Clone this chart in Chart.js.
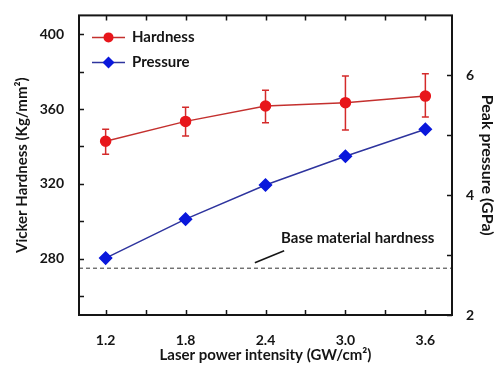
<!DOCTYPE html>
<html>
<head>
<meta charset="utf-8">
<script src="https://cdn.jsdelivr.net/npm/chart.js@4"></script>
<style>
html, body { margin: 0; padding: 0; background: #fff; }
#wrap { width: 501px; height: 368px; }
</style>
</head>
<body>
<div id="wrap"><canvas id="c" width="501" height="368"></canvas></div>
<script>
// data
var intensity = [1.2, 1.8, 2.4, 3.0, 3.6];
var hardness = [342.8, 353.4, 361.6, 363.4, 366.9];
var hardnessLow = [335.8, 345.6, 352.7, 348.8, 355.7];
var hardnessHigh = [349.2, 360.9, 370.0, 377.6, 378.8];
var pressure = [2.95, 3.6, 4.17, 4.65, 5.1];
var baseHardness = 275;

var xTicks = [1.2, 1.8, 2.4, 3.0, 3.6];
var xMinor = [1.5, 2.1, 2.7, 3.3];
var yTicks = [280, 320, 360, 400];
var yMinor = [260, 300, 340, 380];
var y1Ticks = [2, 4, 6];
var y1Minor = [3, 5];

var FONT = 'Lato';
var INK = '#151515';

function pts(xs, ys) {
	return xs.map(function(x, i) { return {x: x, y: ys[i]}; });
}

// frame, inward ticks, error bars, legend, annotation
var decor = {
	id: 'decor',
	beforeDatasetsDraw: function(chart) {
		var ctx = chart.ctx, x = chart.scales.x, y = chart.scales.y;
		ctx.save();
		ctx.strokeStyle = '#d42a2a';
		ctx.lineWidth = 1.5;
		for (var i = 0; i < intensity.length; i++) {
			var px = x.getPixelForValue(intensity[i]);
			var lo = y.getPixelForValue(hardnessLow[i]);
			var hi = y.getPixelForValue(hardnessHigh[i]);
			ctx.beginPath();
			ctx.moveTo(px, lo); ctx.lineTo(px, hi);
			ctx.moveTo(px - 3.5, lo); ctx.lineTo(px + 3.5, lo);
			ctx.moveTo(px - 3.5, hi); ctx.lineTo(px + 3.5, hi);
			ctx.stroke();
		}
		ctx.restore();
	},
	afterDraw: function(chart) {
		var ctx = chart.ctx, a = chart.chartArea;
		var x = chart.scales.x, y = chart.scales.y, y1 = chart.scales.y1;
		ctx.save();
		ctx.strokeStyle = INK;
		ctx.lineWidth = 2;
		ctx.strokeRect(a.left, a.top, a.right - a.left, a.bottom - a.top);

		ctx.lineWidth = 1.5;
		ctx.beginPath();
		xTicks.concat(xMinor).forEach(function(v) {
			var px = Math.round(x.getPixelForValue(v)) + 0.5;
			ctx.moveTo(px, a.bottom); ctx.lineTo(px, a.bottom - 5);
			ctx.moveTo(px, a.top); ctx.lineTo(px, a.top + 5);
		});
		yTicks.concat(yMinor).forEach(function(v) {
			var py = Math.round(y.getPixelForValue(v)) + 0.5;
			ctx.moveTo(a.left, py); ctx.lineTo(a.left + 5, py);
		});
		y1Ticks.concat(y1Minor).forEach(function(v) {
			var py = Math.round(y1.getPixelForValue(v)) + 0.5;
			ctx.moveTo(a.right, py); ctx.lineTo(a.right - 5, py);
		});
		ctx.stroke();

		// annotation for the base line
		ctx.lineWidth = 1.5;
		ctx.beginPath();
		ctx.moveTo(x.getPixelForValue(2.32), y.getPixelForValue(277.9));
		ctx.lineTo(x.getPixelForValue(2.54), y.getPixelForValue(284.3));
		ctx.stroke();
		ctx.fillStyle = INK;
		ctx.font = 'bold 15px ' + FONT;
		ctx.textBaseline = 'middle';
		ctx.fillText('Base material hardness', x.getPixelForValue(2.517), y.getPixelForValue(291.2));

		// legend
		var ds = chart.data.datasets;
		var lx = a.left + 13, ly = a.top + 22;
		[0, 1].forEach(function(k) {
			var d = ds[k], yy = ly + k * 25;
			ctx.strokeStyle = d.borderColor;
			ctx.lineWidth = 1.5;
			ctx.beginPath();
			ctx.moveTo(lx, yy); ctx.lineTo(lx + 33, yy);
			ctx.stroke();
			ctx.fillStyle = d.pointBackgroundColor;
			ctx.beginPath();
			if (d.pointStyle === 'rectRot') {
				var r = 6;
				ctx.moveTo(lx + 16.5, yy - r); ctx.lineTo(lx + 16.5 + r, yy);
				ctx.lineTo(lx + 16.5, yy + r); ctx.lineTo(lx + 16.5 - r, yy);
				ctx.closePath();
			} else {
				ctx.arc(lx + 16.5, yy, 5, 0, Math.PI * 2);
			}
			ctx.fill();
			ctx.fillStyle = INK;
			ctx.font = 'bold 15px ' + FONT;
			ctx.textBaseline = 'middle';
			ctx.fillText(d.label, lx + 40, yy);
		});
		ctx.restore();
	}
};

var tickFont = {family: FONT, size: 14, weight: 'bold'};

new Chart(document.getElementById('c'), {
	type: 'line',
	data: {
		datasets: [{
			label: 'Hardness',
			data: pts(intensity, hardness),
			yAxisID: 'y',
			borderColor: '#c4302e',
			borderWidth: 1.5,
			pointBackgroundColor: '#e8161b',
			pointBorderColor: '#e8161b',
			pointRadius: 5,
			pointStyle: 'circle'
		}, {
			label: 'Pressure',
			data: pts(intensity, pressure),
			yAxisID: 'y1',
			borderColor: '#2e349e',
			borderWidth: 1.5,
			pointBackgroundColor: '#0a18dc',
			pointBorderColor: '#0a18dc',
			pointRadius: 6,
			pointStyle: 'rectRot'
		}, {
			label: 'Base',
			data: [{x: 1.0, y: baseHardness}, {x: 3.8, y: baseHardness}],
			yAxisID: 'y',
			borderColor: '#333',
			borderWidth: 1,
			borderDash: [4, 3],
			pointRadius: 0
		}]
	},
	options: {
		responsive: false,
		animation: false,
		layout: {padding: {top: 14, left: 0, right: 0, bottom: 0}},
		plugins: {legend: {display: false}, tooltip: {enabled: false}},
		scales: {
			x: {
				type: 'linear',
				min: 1.0,
				max: 3.8,
				grid: {display: false},
				border: {display: false},
				afterBuildTicks: function(s) { s.ticks = xTicks.map(function(v) { return {value: v}; }); },
				afterFit: function(s) { s.height = 53; },
				ticks: {
					font: tickFont, color: INK, padding: 9, maxRotation: 0,
					callback: function(v) { return Number(v).toFixed(1); }
				},
				title: {display: true, text: 'Laser power intensity (GW/cm²)', font: {family: FONT, size: 15, weight: 'bold'}, color: INK, padding: {top: 0, bottom: 4}}
			},
			y: {
				position: 'left',
				min: 250,
				max: 410,
				grid: {display: false},
				border: {display: false},
				afterBuildTicks: function(s) { s.ticks = yTicks.map(function(v) { return {value: v}; }); },
				afterFit: function(s) { s.width = 79; },
				ticks: {font: tickFont, color: INK, padding: 7},
				title: {display: true, text: 'Vicker Hardness (Kg/mm²)', font: {family: FONT, size: 15, weight: 'bold'}, color: INK, padding: {top: 13, bottom: 0}}
			},
			y1: {
				position: 'right',
				min: 2,
				max: 7,
				grid: {display: false},
				border: {display: false},
				afterBuildTicks: function(s) { s.ticks = y1Ticks.map(function(v) { return {value: v}; }); },
				afterFit: function(s) { s.width = 49; },
				ticks: {font: tickFont, color: INK, padding: 6},
				title: {display: true, text: 'Peak pressure (GPa)', font: {family: FONT, size: 16, weight: 'bold'}, color: INK, padding: {top: 4, bottom: 0}}
			}
		}
	},
	plugins: [decor]
});
</script>
</body>
</html>
